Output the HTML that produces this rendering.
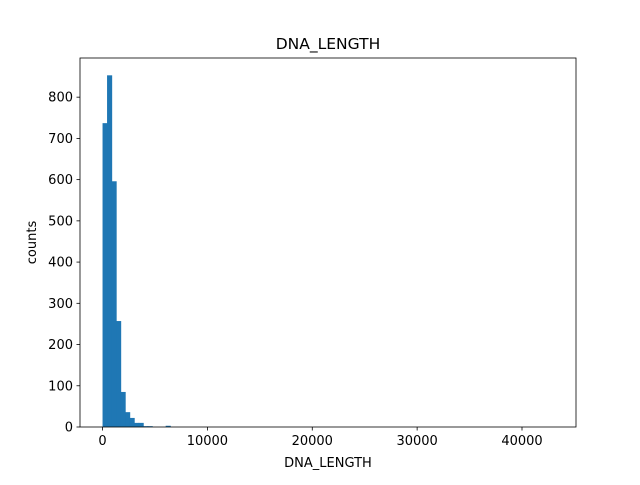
<!DOCTYPE html>
<html><head><meta charset="utf-8"><style>
body{margin:0;background:#fff;}
svg{font-family:"DejaVu Sans","Liberation Sans",sans-serif;}
</style></head><body>
<svg id="chart" width="640" height="480"></svg>
<script>
const binStart = 0;
const binWidth = 430;
const counts = [737,853,596,257,85,36,22,10,10,2,2,0,0,0,3];
const xTicks = [0,10000,20000,30000,40000];
const yTicks = [0,100,200,300,400,500,600,700,800];
const xMin = -2150, xMax = 45150, yMax = 895;
const L=80,R=576,T=58,B=427;
const sx=v=>L+(v-xMin)/(xMax-xMin)*(R-L);
const sy=v=>B-v/yMax*(B-T);
const NS="http://www.w3.org/2000/svg";
const svg=document.getElementById('chart');
function mk(tag,attrs,parent){const e=document.createElementNS(NS,tag);for(const k in attrs)e.setAttribute(k,attrs[k]);(parent||svg).appendChild(e);return e;}
counts.forEach((c,i)=>{
  if(c<=0)return;
  const x0=sx(binStart+i*binWidth), x1=sx(binStart+(i+1)*binWidth);
  const r=mk('rect',{x:x0,y:sy(c),width:x1-x0+0.6,height:B-sy(c),fill:'#1f77b4'});
  
  
});
const frame=mk('rect',{x:L,y:T,width:R-L,height:B-T,fill:'none',stroke:'#000','stroke-width':0.8});


xTicks.forEach(v=>{
  const x=sx(v);
  mk('line',{x1:x,x2:x,y1:B,y2:B+3.5,stroke:'#000','stroke-width':0.8});
  const t=mk('text',{x:x,y:B+18,'text-anchor':'middle','font-size':13});
  t.textContent=v;
  
  
});
yTicks.forEach(v=>{
  const y=sy(v);
  mk('line',{x1:L-3.5,x2:L,y1:y,y2:y,stroke:'#000','stroke-width':0.8});
  const t=mk('text',{x:L-7,y:y+4.5,'text-anchor':'end','font-size':13});
  t.textContent=v;
  
  
});
const title=mk('text',{x:(L+R)/2,y:49,'text-anchor':'middle','font-size':15.5});
title.textContent='DNA_LENGTH';


const xl=mk('text',{x:(L+R)/2,y:467,'text-anchor':'middle','font-size':13});
xl.textContent='DNA_LENGTH';


const yl=mk('text',{x:36,y:(T+B)/2,'text-anchor':'middle','font-size':13,transform:'rotate(-90 36 '+((T+B)/2)+')'});
yl.textContent='counts';


</script>
</body></html>
